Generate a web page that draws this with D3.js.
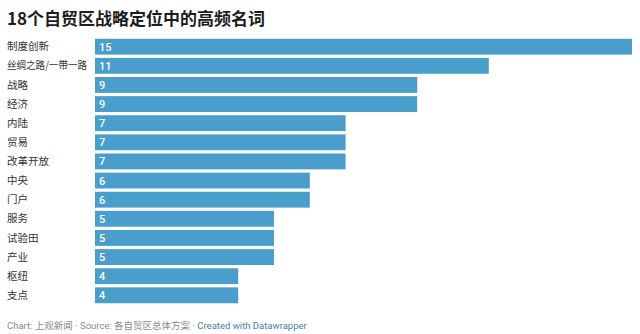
<!DOCTYPE html>
<html>
<head>
<meta charset="utf-8">
<script src="https://cdn.jsdelivr.net/npm/d3@7"></script>
<style>
  html, body { margin: 0; padding: 0; background: #fff; }
  svg { display: block; font-family: Roboto, "Noto Sans CJK SC", sans-serif; }
</style>
</head>
<body>
<svg id="chart" width="640" height="334"></svg>
<script>
// Frequency of key terms across the 18 free-trade-zone plans
const terms = ["制度创新", "丝绸之路/一带一路", "战略", "经济", "内陆", "贸易", "改革开放",
               "中央", "门户", "服务", "试验田", "产业", "枢纽", "支点"];
const counts = [15, 11, 9, 9, 7, 7, 7, 6, 6, 5, 5, 5, 4, 4];

const title = "18个自贸区战略定位中的高频名词";
const footerParts = ["Chart: 上观新闻 · Source: 各自贸区总体方案 · ", "Created with Datawrapper"];

const W = 640, H = 334;
const svg = d3.select("#chart");
const fontStack = 'Roboto, "Noto Sans CJK SC", sans-serif';

svg.append("text")
  .attr("x", 7).attr("y", 25)
  .attr("font-size", 17).attr("font-weight", 700)
  .attr("fill", "#1d1d1d")
  .attr("font-family", '"Noto Sans CJK SC", Roboto, sans-serif')
  .text(title);

const x = d3.scaleLinear().domain([0, 15]).range([95, 632]);
const y = d3.scaleBand().domain(terms).range([38, 304]).paddingInner(0.17).paddingOuter(0.04);

const rows = svg.append("g").selectAll("g")
  .data(terms.map((t, i) => ({ term: t, value: counts[i] })))
  .join("g");

rows.append("rect")
  .attr("x", x(0))
  .attr("y", d => y(d.term))
  .attr("width", d => x(d.value) - x(0))
  .attr("height", y.bandwidth())
  .attr("fill", "#4a9ecb");

// Row labels; long ones are condensed to fit the label column
const labelMax = 80;
rows.append("text")
  .attr("x", 7)
  .attr("y", d => y(d.term) + y.bandwidth() / 2)
  .attr("dy", "0.35em")
  .attr("font-size", 10.5)
  .attr("fill", "#333")
  .attr("font-family", '"Noto Sans CJK SC", sans-serif')
  .text(d => d.term)
  .each(function () {
    if (this.getComputedTextLength() > labelMax) {
      d3.select(this).attr("textLength", labelMax).attr("lengthAdjust", "spacingAndGlyphs");
    }
  });

rows.append("text")
  .attr("x", x(0) + 4)
  .attr("y", d => y(d.term) + y.bandwidth() / 2)
  .attr("dy", "0.36em")
  .attr("font-size", 11)
  .attr("font-weight", 500)
  .attr("fill", "#fff")
  .text(d => d.value);

const foot = svg.append("text")
  .attr("x", 7).attr("y", 328.5)
  .attr("font-size", 9.5)
  .attr("font-family", fontStack);
foot.append("tspan").attr("fill", "#8a8a8a").text(footerParts[0]);
foot.append("tspan").attr("fill", "#4a7fa6").text(footerParts[1]);
</script>
</body>
</html>
